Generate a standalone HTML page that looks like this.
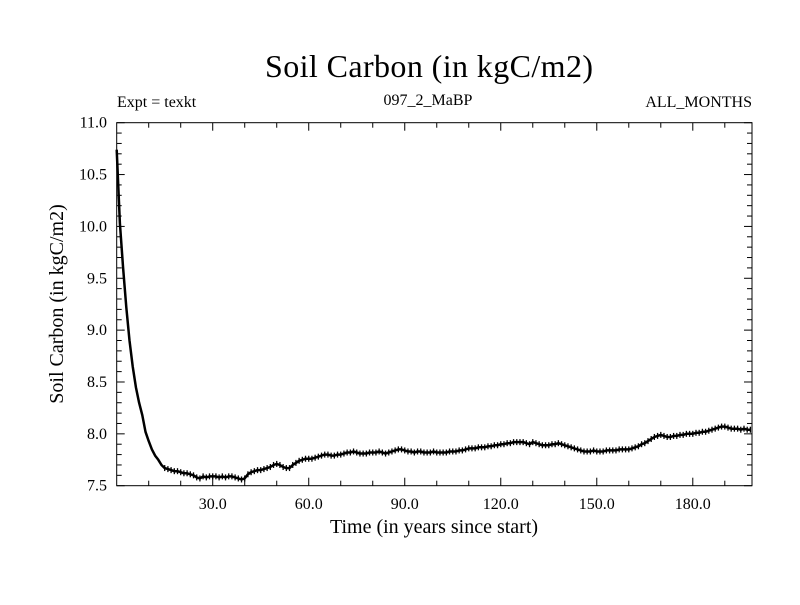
<!DOCTYPE html>
<html><head><meta charset="utf-8"><style>
body{margin:0;background:#fff}
svg text{font-family:"Liberation Serif",serif;fill:#000}
</style></head><body>
<svg id="chart" width="800" height="600" xmlns="http://www.w3.org/2000/svg">
<rect width="800" height="600" fill="#fff"/>
<text x="429" y="77" font-size="32" text-anchor="middle" textLength="328">Soil Carbon (in kgC/m2)</text>
<text x="117" y="107" font-size="16">Expt = texkt</text>
<text x="428" y="105" font-size="16" text-anchor="middle">097_2_MaBP</text>
<text x="752" y="107" font-size="16" text-anchor="end">ALL_MONTHS</text>
<text x="434" y="533" font-size="20" text-anchor="middle">Time (in years since start)</text>
<text transform="translate(63,304) rotate(-90)" font-size="20" text-anchor="middle">Soil Carbon (in kgC/m2)</text>
<g id="axes"></g>
<g id="series"></g>
<rect x="116.7" y="122.7" width="635.3" height="363" fill="none" stroke="#000" stroke-width="1"/>
</svg>
<script>
const xTicks=[30,60,90,120,150,180];
const xTickLabels=["30.0","60.0","90.0","120.0","150.0","180.0"];
const yTicks=[7.5,8.0,8.5,9.0,9.5,10.0,10.5,11.0];
const yTickLabels=["7.5","8.0","8.5","9.0","9.5","10.0","10.5","11.0"];
const soilCarbon=[10.74,10.03,9.6,9.22,8.9,8.65,8.45,8.3,8.18,8.02,7.93,7.85,7.79,7.75,7.7,7.67,7.66,7.65,7.64,7.64,
7.63,7.62,7.62,7.61,7.6,7.58,7.57,7.59,7.58,7.59,7.59,7.59,7.58,7.59,7.58,7.59,7.59,7.58,7.57,7.56,
7.57,7.61,7.63,7.64,7.65,7.65,7.66,7.67,7.68,7.7,7.71,7.7,7.68,7.67,7.67,7.7,7.72,7.74,7.75,7.76,
7.76,7.76,7.77,7.78,7.79,7.8,7.8,7.79,7.79,7.8,7.8,7.81,7.82,7.82,7.83,7.82,7.81,7.81,7.81,7.82,
7.82,7.82,7.83,7.82,7.81,7.82,7.83,7.84,7.85,7.85,7.84,7.83,7.83,7.82,7.83,7.83,7.82,7.82,7.82,7.83,
7.82,7.82,7.82,7.82,7.83,7.83,7.83,7.84,7.84,7.85,7.86,7.86,7.86,7.87,7.87,7.87,7.88,7.88,7.89,7.89,
7.9,7.9,7.91,7.91,7.92,7.92,7.92,7.92,7.91,7.9,
7.92,7.91,7.9,7.89,7.89,7.89,7.9,7.9,7.91,7.9,
7.89,7.88,7.87,7.86,7.85,7.84,7.83,7.83,7.83,7.84,
7.83,7.83,7.83,7.84,7.84,7.84,7.84,7.85,7.85,7.85,
7.85,7.86,7.87,7.88,7.9,7.91,7.93,7.95,7.97,7.98,
7.99,7.98,7.97,7.97,7.98,7.98,7.99,7.99,8.0,8.0,
8.0,8.01,8.01,8.02,8.02,8.03,8.04,8.05,8.06,8.07,
8.07,8.06,8.05,8.05,8.05,8.04,8.05,8.04,8.04];
const years=[];for(let i=0;i<soilCarbon.length;i++)years.push(i);
const L=116.7,R=752,T=122.7,B=485.7,X0=0,X1=198.5,Y0=7.5,Y1=11.0;
const sx=v=>L+(v-X0)/(X1-X0)*(R-L);
const sy=v=>B-(v-Y0)/(Y1-Y0)*(B-T);
const NS="http://www.w3.org/2000/svg";
const ax=document.getElementById('axes');
function mk(tag,attrs,parent){const e=document.createElementNS(NS,tag);for(const k in attrs)e.setAttribute(k,attrs[k]);parent.appendChild(e);return e;}
for(let t=10;t<X1;t+=10){
  const major=t%30===0,len=major?8:5,x=sx(t);
  const a=mk('line',{x1:x,x2:x,y1:B,y2:B-len,stroke:'#000'},ax);
  
  
  const b=mk('line',{x1:x,x2:x,y1:T,y2:T+len,stroke:'#000'},ax);
  
  
}
xTicks.forEach((t,i)=>{
  const tx=mk('text',{x:sx(t),y:509,'font-size':16,'text-anchor':'middle'},ax);
  tx.textContent=xTickLabels[i];
  
  
});
for(let k=0;k<=35;k++){
  const v=7.5+k*0.1,major=k%5===0,len=major?8:5,y=sy(v);
  const a=mk('line',{x1:L,x2:L+len,y1:y,y2:y,stroke:'#000'},ax);
  
  
  const b=mk('line',{x1:R,x2:R-len,y1:y,y2:y,stroke:'#000'},ax);
  
  
}
yTicks.forEach((t,i)=>{
  const tx=mk('text',{x:107,y:sy(t)+5,'font-size':16,'text-anchor':'end'},ax);
  tx.textContent=yTickLabels[i];
  
  
});
const sg=document.getElementById('series');
let d='';
soilCarbon.forEach((v,i)=>{d+=(i?'L':'M')+sx(years[i]).toFixed(1)+','+sy(v).toFixed(1);});
const line=mk('path',{d:d,fill:'none',stroke:'#000','stroke-width':2.5,'stroke-linejoin':'round'},sg);


soilCarbon.forEach((v,i)=>{
  if(i<15)return;
  const x=sx(years[i]),y=sy(v);
  const m=mk('line',{x1:x,x2:x,y1:y-3,y2:y+3,stroke:'#000','stroke-width':1.3},sg);
  
  
});
</script>
</body></html>
